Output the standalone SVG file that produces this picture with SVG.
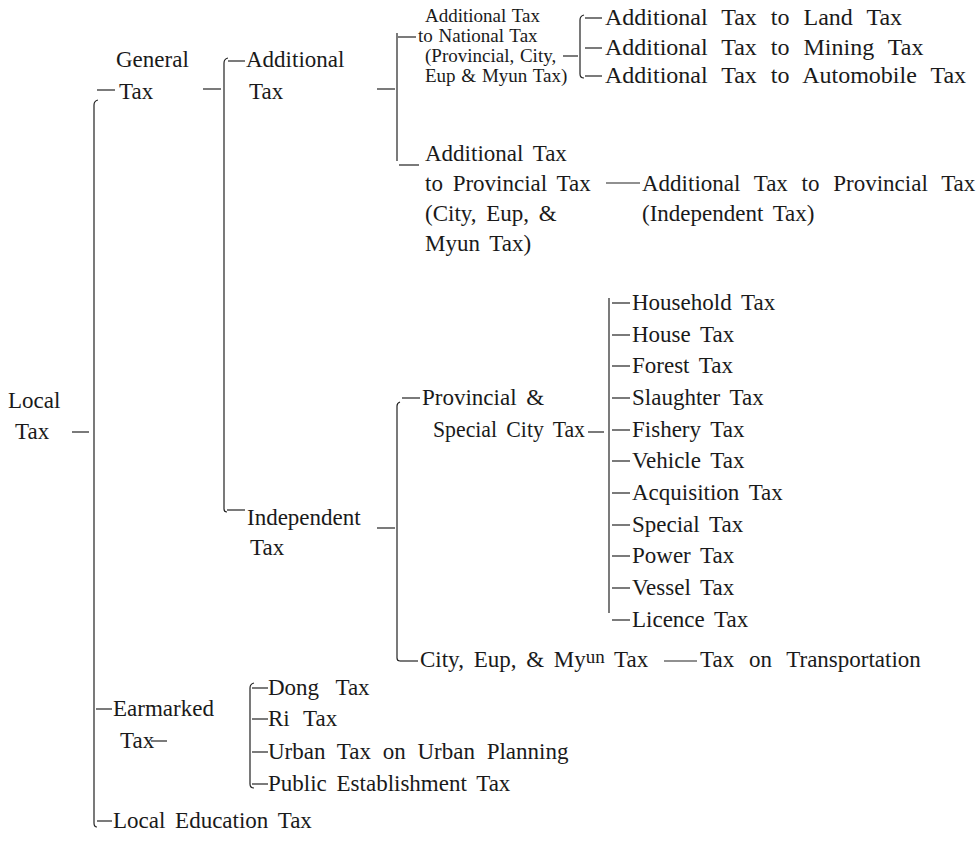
<svg xmlns="http://www.w3.org/2000/svg" width="979" height="844" viewBox="0 0 979 844">
<style>
.t{font-family:"Liberation Serif","Times New Roman",serif;font-size:23px;fill:#1a1a1a;word-spacing:4px}
.s{font-size:19px;word-spacing:1px}
.w{font-size:24px;word-spacing:8px}
.c{stroke:#222;stroke-width:1.2;fill:none}
</style>
<rect width="979" height="844" fill="#fff"/>
<g id="connectors" class="c">
<path d="M72,432H89"/>
<path d="M98,100Q94,101 94,105V823Q94,827 97,827"/>
<path d="M97,90H115"/>
<path d="M96,709H112"/>
<path d="M97,821H112"/>
<path d="M203,89H221"/>
<path d="M228,58Q224,59 224,63V509Q224,512 227,512"/>
<path d="M228,61H245"/>
<path d="M227,510H245"/>
<path d="M377,89H395"/>
<path d="M397,33V161"/>
<path d="M398,37H416"/>
<path d="M399,165H419"/>
<path d="M563,56H578"/>
<path d="M584,15Q580,16 580,20V74Q580,78 584,78"/>
<path d="M585,18H602"/>
<path d="M585,48H602"/>
<path d="M585,76H602"/>
<path d="M606,183H640"/>
<path d="M377,528H395"/>
<path d="M400,402Q397,403 397,406V658Q397,661 400,661"/>
<path d="M402,398H420"/>
<path d="M588,432H604"/>
<path d="M609,298V613"/>
<path d="M612,303H630"/>
<path d="M612,335H630"/>
<path d="M612,366H630"/>
<path d="M612,398H630"/>
<path d="M612,430H630"/>
<path d="M612,461H630"/>
<path d="M612,493H630"/>
<path d="M612,525H630"/>
<path d="M612,556H630"/>
<path d="M612,588H630"/>
<path d="M612,620H630"/>
<path d="M400,661H418"/>
<path d="M664,661H697"/>
<path d="M151,741H167"/>
<path d="M254,683Q250,684 250,688V784Q250,788 254,788"/>
<path d="M252,688H268"/>
<path d="M252,719H268"/>
<path d="M252,752H268"/>
<path d="M252,784H268"/>
</g>
<g id="n-local"><text class="t" x="8" y="408">Local</text><text class="t" x="15" y="439">Tax</text></g>
<g id="n-general"><text class="t" x="116" y="67">General</text><text class="t" x="119" y="99">Tax</text></g>
<g id="n-additional"><text class="t" x="246" y="67">Additional</text><text class="t" x="249" y="99">Tax</text></g>
<g id="n-add-national"><text class="t s" x="425" y="22">Additional Tax</text><text class="t s" x="418" y="42">to National Tax</text><text class="t s" x="425" y="62">(Provincial, City,</text><text class="t s" x="425" y="82">Eup &amp; Myun Tax)</text></g>
<g id="n-land"><text class="t w" x="605" y="25">Additional Tax to Land Tax</text></g>
<g id="n-mining"><text class="t w" x="605" y="55">Additional Tax to Mining Tax</text></g>
<g id="n-auto"><text class="t w" x="605" y="83">Additional Tax to Automobile Tax</text></g>
<g id="n-add-prov"><text class="t" x="425" y="161">Additional Tax</text><text class="t" x="425" y="191">to Provincial Tax</text><text class="t" x="425" y="221">(City, Eup, &amp;</text><text class="t" x="425" y="251">Myun Tax)</text></g>
<g id="n-add-prov-ind"><text class="t" x="642" y="191" style="word-spacing:8px">Additional Tax to Provincial Tax</text><text class="t" x="642" y="221">(Independent Tax)</text></g>
<g id="n-independent"><text class="t" x="247" y="525">Independent</text><text class="t" x="250" y="555">Tax</text></g>
<g id="n-prov-special"><text class="t" x="422" y="405">Provincial &amp;</text><text class="t" x="433" y="437" textLength="152" lengthAdjust="spacingAndGlyphs">Special City Tax</text></g>
<g id="n-household"><text class="t" x="632" y="310">Household Tax</text></g>
<g id="n-house"><text class="t" x="632" y="342">House Tax</text></g>
<g id="n-forest"><text class="t" x="632" y="373">Forest Tax</text></g>
<g id="n-slaughter"><text class="t" x="632" y="405">Slaughter Tax</text></g>
<g id="n-fishery"><text class="t" x="632" y="437">Fishery Tax</text></g>
<g id="n-vehicle"><text class="t" x="632" y="468">Vehicle Tax</text></g>
<g id="n-acquisition"><text class="t" x="632" y="500">Acquisition Tax</text></g>
<g id="n-special"><text class="t" x="632" y="532">Special Tax</text></g>
<g id="n-power"><text class="t" x="632" y="563">Power Tax</text></g>
<g id="n-vessel"><text class="t" x="632" y="595">Vessel Tax</text></g>
<g id="n-licence"><text class="t" x="632" y="627">Licence Tax</text></g>
<g id="n-city"><text class="t" x="420" y="667">City, Eup, &amp; My<tspan dy="-4" font-size="19">un</tspan><tspan dy="4"> Tax</tspan></text></g>
<g id="n-transport"><text class="t" x="700" y="667" style="word-spacing:9px">Tax on Transportation</text></g>
<g id="n-earmarked"><text class="t" x="113" y="716">Earmarked</text><text class="t" x="120" y="748">Tax</text></g>
<g id="n-dong"><text class="t" x="268" y="695" style="word-spacing:11px">Dong Tax</text></g>
<g id="n-ri"><text class="t" x="268" y="726" style="word-spacing:8px">Ri Tax</text></g>
<g id="n-urban"><text class="t" x="268" y="759" style="word-spacing:6px">Urban Tax on Urban Planning</text></g>
<g id="n-public"><text class="t" x="268" y="791">Public Establishment Tax</text></g>
<g id="n-local-edu"><text class="t" x="113" y="828">Local Education Tax</text></g>
</svg>
